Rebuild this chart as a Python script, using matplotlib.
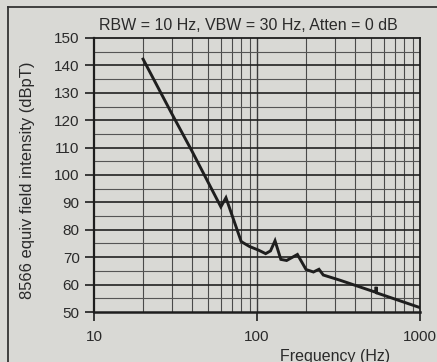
import numpy as np
import matplotlib
matplotlib.use("Agg")
import matplotlib.pyplot as plt
from matplotlib.ticker import FixedLocator, NullFormatter, FixedFormatter

plt.rcParams["font.family"] = ["Liberation Sans", "DejaVu Sans"]

# values
freq_hz = [20, 30, 40, 60, 64.5, 80, 90, 102, 113, 121, 129, 140, 152, 177,
           200, 222, 240, 255, 323, 535, 538, 541, 1000]
level_dbpt = [142.3, 122.4, 108.6, 88.4, 91.7, 75.7, 73.9, 72.6, 71.3, 72.3,
              76.0, 69.2, 68.8, 71.0, 65.5, 64.6, 65.6, 63.5, 61.6, 57.2,
              59.2, 57.0, 51.6]
y_ticks = [50, 60, 70, 80, 90, 100, 110, 120, 130, 140, 150]
x_ticks = [10, 100, 1000]
x_ticklabels = ["10", "100", "1000"]

bg = "#d9d9d5"
ink = "#1e1e1e"

fig = plt.figure(figsize=(4.37, 3.62), dpi=100)
fig.patch.set_facecolor(bg)
ax = fig.add_axes([94 / 437, 1 - 312 / 362, 326 / 437, 274 / 362])
ax.set_facecolor(bg)

ax.set_xscale("log")
ax.set_xlim(10, 1000)
ax.set_ylim(50, 150)

# grid: heavy every 10 dB, light every 5 dB, log minor verticals
minor_x = [m * d for d in (10, 100) for m in range(2, 10)]
for f in minor_x:
    ax.axvline(f, color="#4a4a4a", lw=0.8, zorder=1)
ax.axvline(100, color="#3a3a3a", lw=1.0, zorder=1)
for v in range(55, 150, 10):
    ax.axhline(v, color="#555555", lw=0.8, zorder=1)
for v in range(60, 150, 10):
    ax.axhline(v, color="#222222", lw=1.2, zorder=1)

ax.plot(freq_hz, level_dbpt, color=ink, lw=2.1, solid_joinstyle="miter", zorder=3)

ax.xaxis.set_major_locator(FixedLocator(x_ticks))
ax.xaxis.set_major_formatter(FixedFormatter(x_ticklabels))
ax.xaxis.set_minor_locator(FixedLocator([]))
ax.xaxis.set_minor_formatter(NullFormatter())
ax.set_yticks(y_ticks)
ax.tick_params(axis="both", direction="out", length=6.8, width=1.2,
               color=ink, labelsize=11, labelcolor="#2a2a2a")
ax.tick_params(axis="x", pad=6)
ax.tick_params(axis="y", pad=3.5)

for side in ["left", "bottom", "top", "right"]:
    ax.spines[side].set_color(ink)
ax.spines["left"].set_linewidth(1.6)
ax.spines["bottom"].set_linewidth(1.8)
ax.spines["top"].set_linewidth(1.3)
ax.spines["right"].set_linewidth(1.3)

fig.text(248 / 437, 1 - 26 / 362, "RBW = 10 Hz, VBW = 30 Hz, Atten = 0 dB",
         ha="center", va="center", fontsize=11.5, color="#2a2a2a")
fig.text(27.5 / 437, 1 - 180.5 / 362, "8566 equiv field intensity (dBpT)",
         rotation=90, ha="center", va="center", fontsize=11.9, color="#2a2a2a")
fig.text(335 / 437, 1 - 356 / 362, "Frequency (Hz)",
         ha="center", va="center", fontsize=11.5, color="#2a2a2a")

# page frame around the figure
fig.add_artist(plt.Line2D([8 / 437, 8 / 437], [0, 1 - 7 / 362],
                          transform=fig.transFigure, color="#333333", lw=1.3))
fig.add_artist(plt.Line2D([8 / 437, 1], [1 - 7 / 362, 1 - 7 / 362],
                          transform=fig.transFigure, color="#333333", lw=1.3))

fig.savefig("out.png", dpi=100, facecolor=bg)
